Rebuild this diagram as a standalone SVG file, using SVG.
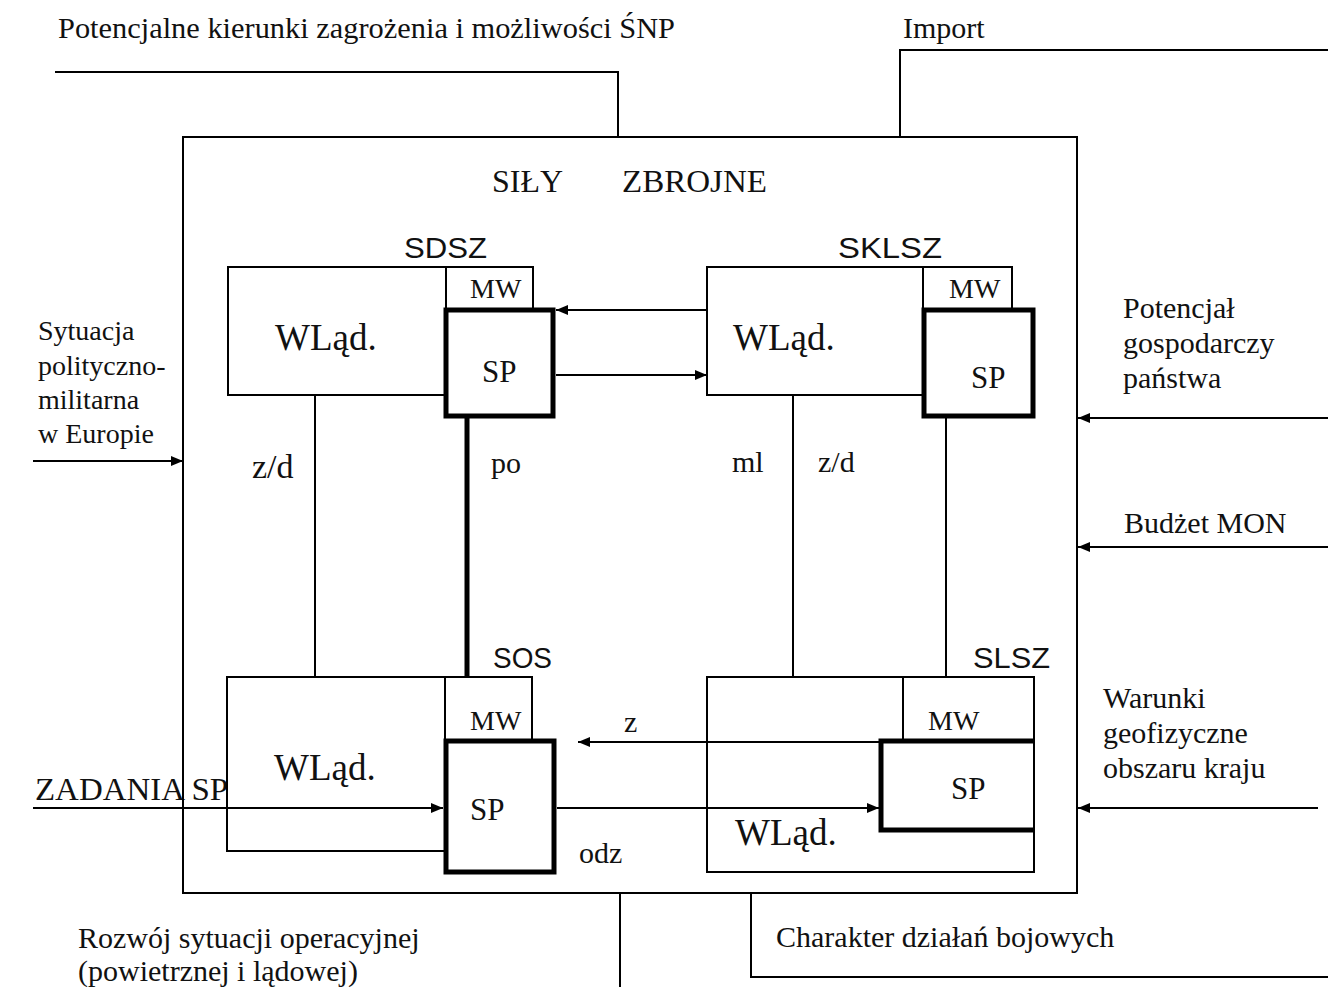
<svg xmlns="http://www.w3.org/2000/svg" width="1328" height="987" viewBox="0 0 1328 987">
<defs>
<marker id="ah" viewBox="0 0 12 10" refX="12" refY="5" markerWidth="12" markerHeight="10" markerUnits="userSpaceOnUse" orient="auto">
<path d="M0,0 L12,5 L0,10 Z" fill="#000"/>
</marker>
<style>
.t{font-family:"Liberation Serif","Times New Roman",serif;fill:#111}
.s{font-family:"Liberation Sans",Arial,sans-serif;fill:#111}
.thin{fill:none;stroke:#000;stroke-width:2}
.thick{fill:none;stroke:#000;stroke-width:5}
.ln{fill:none;stroke:#000;stroke-width:2}
.lnb{fill:none;stroke:#000;stroke-width:5}
.arr{fill:none;stroke:#000;stroke-width:2;marker-end:url(#ah)}
</style>
</defs>
<rect width="1328" height="987" fill="#fff"/>

<g id="labels-outer">
<text class="t" x="58" y="38" font-size="30" textLength="617" lengthAdjust="spacingAndGlyphs">Potencjalne kierunki zagrożenia i możliwości ŚNP</text>
<text class="t" x="903" y="38" font-size="30">Import</text>
<text class="t" x="38" y="340" font-size="28">Sytuacja</text>
<text class="t" x="38" y="375" font-size="28">polityczno-</text>
<text class="t" x="38" y="409" font-size="28">militarna</text>
<text class="t" x="38" y="443" font-size="28">w Europie</text>
<text class="t" x="1123" y="318" font-size="30">Potencjał</text>
<text class="t" x="1123" y="353" font-size="30">gospodarczy</text>
<text class="t" x="1123" y="388" font-size="30">państwa</text>
<text class="t" x="1124" y="533" font-size="30">Budżet MON</text>
<text class="t" x="1103" y="708" font-size="30">Warunki</text>
<text class="t" x="1103" y="743" font-size="30">geofizyczne</text>
<text class="t" x="1103" y="778" font-size="30">obszaru kraju</text>
<text class="t" x="35" y="800" font-size="32" textLength="193" lengthAdjust="spacingAndGlyphs">ZADANIA SP</text>
<text class="t" x="78" y="948" font-size="30">Rozwój sytuacji operacyjnej</text>
<text class="t" x="78" y="981" font-size="30">(powietrznej i lądowej)</text>
<text class="t" x="776" y="947" font-size="30">Charakter działań bojowych</text>
</g>

<g id="sily-zbrojne">
<rect class="thin" x="183" y="137" width="894" height="756"/>
<text class="t" x="492" y="192" font-size="32" textLength="71" lengthAdjust="spacingAndGlyphs">SIŁY</text>
<text class="t" x="622" y="192" font-size="32" textLength="145" lengthAdjust="spacingAndGlyphs">ZBROJNE</text>
</g>

<g id="sdsz">
<text class="s" x="404" y="258" font-size="29" textLength="83" lengthAdjust="spacingAndGlyphs">SDSZ</text>
<rect class="thin" x="228" y="267" width="218" height="128"/>
<rect class="thin" x="446" y="267" width="87" height="43"/>
<text class="t" x="470" y="298" font-size="28">MW</text>
<text class="t" x="275" y="350" font-size="37">WLąd.</text>
<rect class="thick" x="446" y="310" width="107" height="106" fill="#fff"/>
<text class="t" x="482" y="382" font-size="31">SP</text>
</g>

<g id="sklsz">
<text class="s" x="838" y="258" font-size="29" textLength="104" lengthAdjust="spacingAndGlyphs">SKLSZ</text>
<rect class="thin" x="707" y="267" width="216" height="128"/>
<rect class="thin" x="923" y="267" width="89" height="43"/>
<text class="t" x="949" y="298" font-size="28">MW</text>
<text class="t" x="733" y="350" font-size="37">WLąd.</text>
<rect class="thick" x="924" y="310" width="109" height="106" fill="#fff"/>
<text class="t" x="971" y="388" font-size="31">SP</text>
</g>

<g id="sos">
<text class="s" x="493" y="668" font-size="29" textLength="59" lengthAdjust="spacingAndGlyphs">SOS</text>
<rect class="thin" x="227" y="677" width="218" height="174"/>
<rect class="thin" x="445" y="677" width="87" height="63"/>
<text class="t" x="470" y="730" font-size="28">MW</text>
<text class="t" x="274" y="780" font-size="37">WLąd.</text>
<rect class="thick" x="446" y="741" width="108" height="131" fill="#fff"/>
<text class="t" x="470" y="820" font-size="31">SP</text>
</g>

<g id="slsz">
<text class="s" x="973" y="668" font-size="29" textLength="77" lengthAdjust="spacingAndGlyphs">SLSZ</text>
<rect class="thin" x="707" y="677" width="327" height="195"/>
<line class="ln" x1="903" y1="677" x2="903" y2="741"/>
<text class="t" x="928" y="730" font-size="28">MW</text>
<path class="thick" d="M1034,741 H881 V830 H1034"/>
<text class="t" x="951" y="799" font-size="31">SP</text>
<text class="t" x="735" y="845" font-size="37">WLąd.</text>
</g>

<g id="connectors">
<path class="ln" d="M55,72 H618 V137"/>
<path class="ln" d="M1328,50 H900 V137"/>
<line class="arr" x1="33" y1="461" x2="183" y2="461"/>
<line class="arr" x1="1328" y1="418" x2="1078" y2="418"/>
<line class="arr" x1="1328" y1="547" x2="1078" y2="547"/>
<line class="arr" x1="1318" y1="808" x2="1078" y2="808"/>
<line class="arr" x1="707" y1="310" x2="556" y2="310"/>
<line class="arr" x1="556" y1="375" x2="707" y2="375"/>
<line class="ln" x1="315" y1="395" x2="315" y2="677"/>
<line class="lnb" x1="467" y1="418" x2="467" y2="677"/>
<line class="ln" x1="793" y1="395" x2="793" y2="677"/>
<line class="ln" x1="946" y1="418" x2="946" y2="677"/>
<line class="arr" x1="881" y1="742" x2="578" y2="742"/>
<line class="arr" x1="33" y1="808" x2="443" y2="808"/>
<line class="arr" x1="557" y1="808" x2="879" y2="808"/>
<line class="ln" x1="620" y1="893" x2="620" y2="987"/>
<path class="ln" d="M751,893 V977 H1328"/>
<text class="t" x="252" y="478" font-size="34">z/d</text>
<text class="t" x="491" y="473" font-size="30">po</text>
<text class="t" x="732" y="472" font-size="30">ml</text>
<text class="t" x="818" y="472" font-size="30">z/d</text>
<text class="t" x="624" y="732" font-size="30">z</text>
<text class="t" x="579" y="863" font-size="30">odz</text>
</g>
</svg>
